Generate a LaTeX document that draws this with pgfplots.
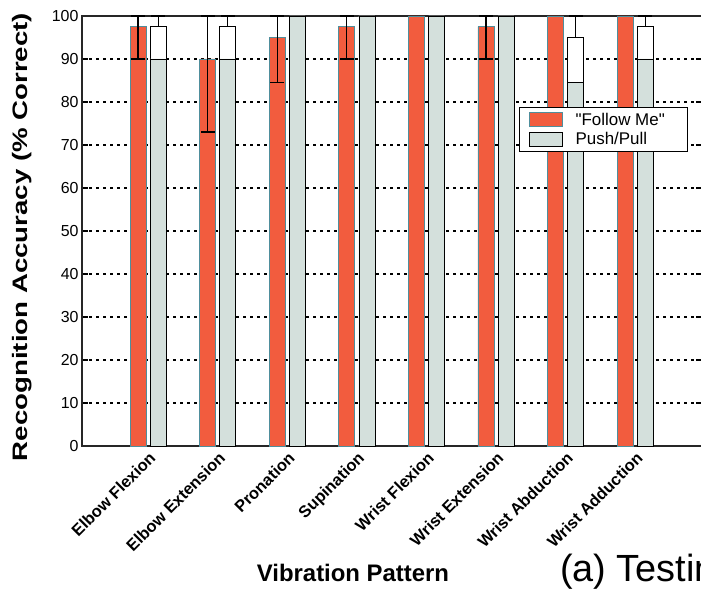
\documentclass[border=0pt]{standalone}
\usepackage{fontspec}
\setmainfont{Liberation Sans}[Ligatures=TeXOff]
\usepackage{graphicx}
\usepackage{pgfplots}
\pgfplotsset{compat=1.18}
\definecolor{fm}{HTML}{F25C3E}
\definecolor{fmedge}{HTML}{4F8E9C}
\definecolor{pp}{HTML}{D4E0DC}
\pgfplotsset{
  bleg/.style={legend image code/.code={\draw[##1] (2bp,-7bp) rectangle (35bp,7bp);}},
  errs/.style={error bars/.cd, y dir=both, y explicit,
    error bar style={black, line width=1.2bp},
    error mark options={black, line width=1.2bp, mark size=7bp, rotate=90}},
}
\begin{document}
\begin{tikzpicture}[x=1bp,y=1bp]
\path[use as bounding box] (0,0) rectangle (701,589);
\clip (0,0) rectangle (701,589);
\begin{axis}[
  at={(82bp,143bp)}, anchor=south west,
  scale only axis, width=620bp, height=430bp,
  xmin=-0.95, xmax=7.96, ymin=0, ymax=100,
  xtick={0,...,7}, ytick={0,10,...,100},
  xticklabels={Elbow Flexion, Elbow Extension, Pronation, Supination,
    Wrist Flexion, Wrist Extension, Wrist Abduction, Wrist Adduction},
  x tick label style={rotate=45, anchor=north east, font=\fontsize{16.5}{18}\selectfont\bfseries},
  y tick label style={font=\fontsize{16}{18}\selectfont},
  /pgf/number format/assume math mode=true,
  ymajorgrids, grid style={black, line width=1.5bp, dash pattern=on 3bp off 4bp},
  axis line style={black!85, line width=1.3bp},
  tick align=inside, ytick pos=both, major tick length=6bp,
  xtick style={draw=none}, ytick style={black, line width=1.3bp},
  clip=false,
  legend style={at={(0.705,0.788)}, anchor=north west, draw=black, line width=1.2bp,
    font=\fontsize{17}{19}\selectfont, cells={anchor=west}, row sep=2bp,
    inner xsep=9bp, inner ysep=3bp},
]
\addplot[ybar, bleg, bar width=0.23, bar shift=0, fill=fm, draw=fmedge, line width=0.8bp, errs]
  coordinates {(-0.145,97.5) += (0,2.5) -= (0,7.5)
               (0.855,90) += (0,10) -= (0,17)
               (1.855,95) += (0,5) -= (0,10.5)
               (2.855,97.5) += (0,2.5) -= (0,7.5)
               (3.855,100)
               (4.855,97.5) += (0,2.5) -= (0,7.5)
               (5.855,100)
               (6.855,100)};
\addlegendentry{\hspace*{11bp}"Follow Me"\hspace*{12bp}}
\addplot[ybar, forget plot, bar width=0.23, bar shift=0, fill=white, draw=black, line width=0.9bp, errs]
  coordinates {(0.145,97.5) += (0,2.5) -= (0,0)
               (1.145,97.5) += (0,2.5) -= (0,0)
               (2.145,100) (3.145,100) (4.145,100) (5.145,100)
               (6.145,95) += (0,5) -= (0,0)
               (7.145,97.5) += (0,2.5) -= (0,0)};
\addplot[ybar, bleg, bar width=0.23, bar shift=0, fill=pp, draw=black, line width=0.9bp]
  coordinates {(0.145,90) (1.145,90) (2.145,100) (3.145,100) (4.145,100) (5.145,100) (6.145,84.5) (7.145,90)};
\addlegendentry{\hspace*{11bp}Push/Pull}
\end{axis}
\node[rotate=90, anchor=base, font=\fontsize{21}{24}\selectfont\bfseries] at (27,352)
  {\scalebox{1.32}[1]{Recognition Accuracy (\% Correct)}};
\node[anchor=base, font=\fontsize{24}{28}\selectfont\bfseries] at (353,7) {Vibration Pattern};
\node[anchor=base west, font=\fontsize{38}{44}\selectfont, inner sep=0pt] at (560,7) {(a) Testing};
\end{tikzpicture}
\end{document}
